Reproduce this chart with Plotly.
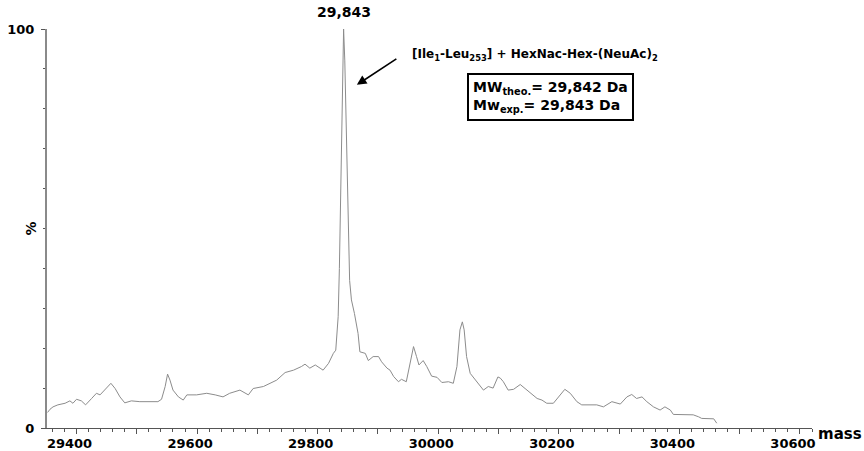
import plotly.graph_objects as go

mass = [29352, 29356, 29361, 29369, 29381, 29389, 29394, 29400, 29408, 29415,
        29425, 29433, 29439, 29444, 29450, 29457, 29464, 29472, 29480, 29491,
        29505, 29522, 29535, 29541, 29547, 29551, 29555, 29560, 29569, 29577,
        29583, 29599, 29616, 29630, 29643, 29654, 29671, 29685, 29693, 29710,
        29721, 29732, 29746, 29760, 29773, 29779, 29787, 29796, 29804, 29809,
        29818, 29826, 29830, 29834, 29836, 29838, 29840, 29842, 29843, 29845,
        29847, 29849, 29851, 29853, 29856, 29861, 29867, 29870, 29879, 29884,
        29892, 29901, 29906, 29915, 29920, 29926, 29934, 29939, 29947, 29953,
        29959, 29964, 29968, 29975, 29981, 29989, 29998, 30006, 30017, 30025,
        30031, 30036, 30040, 30043, 30047, 30053, 30064, 30075, 30083, 30091,
        30099, 30103, 30108, 30116, 30125, 30136, 30144, 30153, 30164, 30172,
        30180, 30191, 30199, 30210, 30219, 30230, 30238, 30247, 30263, 30274,
        30288, 30302, 30313, 30321, 30329, 30338, 30346, 30357, 30368, 30376,
        30385, 30390, 30407, 30423, 30432, 30437, 30457, 30462]
intensity = [3.9, 4.7, 5.3, 5.8, 6.2, 6.8, 6.2, 7.2, 6.8, 5.8,
             7.4, 8.7, 8.3, 9.1, 10.2, 11.2, 9.9, 7.8, 6.3, 6.8,
             6.6, 6.6, 6.6, 7.2, 10.4, 13.5, 12.0, 9.5, 7.8, 7.0,
             8.3, 8.3, 8.7, 8.3, 7.8, 8.7, 9.5, 8.3, 9.9, 10.4,
             11.2, 12.0, 13.9, 14.5, 15.4, 16.0, 15.0, 15.8, 15.0, 14.5,
             16.2, 18.7, 19.5, 27.9, 40.0, 57.0, 80.0, 97.0, 100.0, 92.0,
             78.0, 65.0, 52.0, 37.0, 32.1, 28.7, 23.7, 19.1, 18.7, 16.9,
             17.9, 17.9, 16.6, 15.0, 14.5, 12.9, 11.6, 12.2, 11.6, 16.2,
             20.4, 17.9, 15.8, 16.9, 15.4, 13.0, 12.7, 11.4, 11.6, 11.2,
             15.4, 24.6, 26.6, 24.6, 17.9, 13.7, 11.6, 9.5, 10.4, 10.0,
             12.8, 12.5, 11.6, 9.5, 9.7, 10.9, 9.9, 8.7, 7.4, 7.0,
             6.2, 6.2, 7.8, 9.7, 8.7, 6.6, 5.8, 5.8, 5.8, 5.3,
             6.6, 6.0, 7.8, 8.4, 7.4, 7.8, 6.6, 5.3, 4.5, 5.3,
             4.5, 3.4, 3.3, 3.3, 2.8, 2.4, 2.3, 1.2]

x_labelvals = list(range(29400, 30601, 200))
x_labeltext = [str(v) for v in x_labelvals]
x_majorvals = list(range(29400, 30601, 100))
y_tickvals = [0, 100]
y_ticktext = ["0", "100"]

peak_mass = 29843
peak_label = "29,843"
assign_label = "[Ile<sub>1</sub>-Leu<sub>253</sub>] + HexNac-Hex-(NeuAc)<sub>2</sub>"
box_label = "MW<sub>theo.</sub>= 29,842 Da<br>Mw<sub>exp.</sub>= 29,843 Da"

FONT = "DejaVu Sans"
XRANGE = [29351, 30620]

fig = go.Figure()
fig.add_trace(go.Scatter(x=mass, y=intensity, mode="lines",
                         line=dict(color="#8c8c8c", width=1),
                         showlegend=False, hoverinfo="skip"))

fig.update_layout(
    width=864, height=451,
    margin=dict(l=47, r=52, t=29, b=23, autoexpand=False),
    paper_bgcolor="white", plot_bgcolor="white",
    font=dict(family=FONT, color="black"),
    xaxis=dict(range=XRANGE, showgrid=False, zeroline=False,
               automargin=False,
               showline=True, linecolor="#555555", linewidth=1,
               tickvals=x_labelvals, ticktext=x_labeltext,
               ticks="outside", ticklen=3, tickcolor="#555555", tickwidth=1,
               ticklabelshift=-7, ticklabelstandoff=0,
               tickfont=dict(family=FONT, size=13, color="black", weight="bold"),
               minor=dict(dtick=20, tick0=29400, ticks="outside", ticklen=3,
                          tickcolor="#555555", showgrid=False)),
    xaxis2=dict(range=XRANGE, overlaying="x", matches="x", side="bottom",
                anchor="y", showgrid=False, zeroline=False, automargin=False,
                showline=False, tickvals=x_majorvals, showticklabels=False,
                ticks="outside", ticklen=5, tickcolor="#555555", tickwidth=1),
    yaxis=dict(range=[0, 100], showgrid=False, zeroline=False,
               automargin=False,
               showline=True, linecolor="#8a8a8a", linewidth=2,
               tickvals=y_tickvals, ticktext=y_ticktext,
               ticks="outside", ticklen=4, tickcolor="#555555", tickwidth=1,
               ticklabelstandoff=4,
               tickfont=dict(family=FONT, size=13, color="black", weight="bold"),
               minor=dict(dtick=10, tick0=0, ticks="outside", ticklen=2,
                          tickcolor="#555555", showgrid=False)),
)

# invisible helper trace so the tick-only secondary x axis is drawn
fig.add_trace(go.Scatter(x=[XRANGE[0]], y=[None], xaxis="x2", yaxis="y",
                         mode="lines", showlegend=False, hoverinfo="skip"))

fig.add_annotation(xref="paper", yref="paper", x=0, y=0.5, text="%",
                   showarrow=False, textangle=-90, xanchor="center",
                   yanchor="middle", xshift=-17,
                   font=dict(family=FONT, size=14, color="black", weight="bold"))
fig.add_annotation(x=peak_mass, y=100, text=peak_label, showarrow=False,
                   yanchor="middle", yshift=17,
                   font=dict(family=FONT, size=14, color="black", weight="bold"))
fig.add_annotation(x=29865, y=86, text="", showarrow=True,
                   ax=41, ay=-27, arrowhead=2, arrowsize=1.2,
                   arrowwidth=1.6, arrowcolor="black")
fig.add_annotation(x=29953, y=93.5, text=assign_label, showarrow=False,
                   xanchor="left", yanchor="middle",
                   font=dict(family=FONT, size=12, color="black", weight="bold"))
fig.add_annotation(x=30187, y=83, text=box_label, showarrow=False,
                   xanchor="center", yanchor="middle", align="left",
                   bordercolor="black", borderwidth=2, borderpad=4,
                   bgcolor="white",
                   font=dict(family=FONT, size=14, color="black", weight="bold"))
fig.add_annotation(xref="paper", yref="paper", x=1, y=0, text="mass",
                   showarrow=False, xanchor="left", yanchor="middle",
                   xshift=4, yshift=-6,
                   font=dict(family=FONT, size=15, color="black", weight="bold"))

fig.write_html("out.html")
